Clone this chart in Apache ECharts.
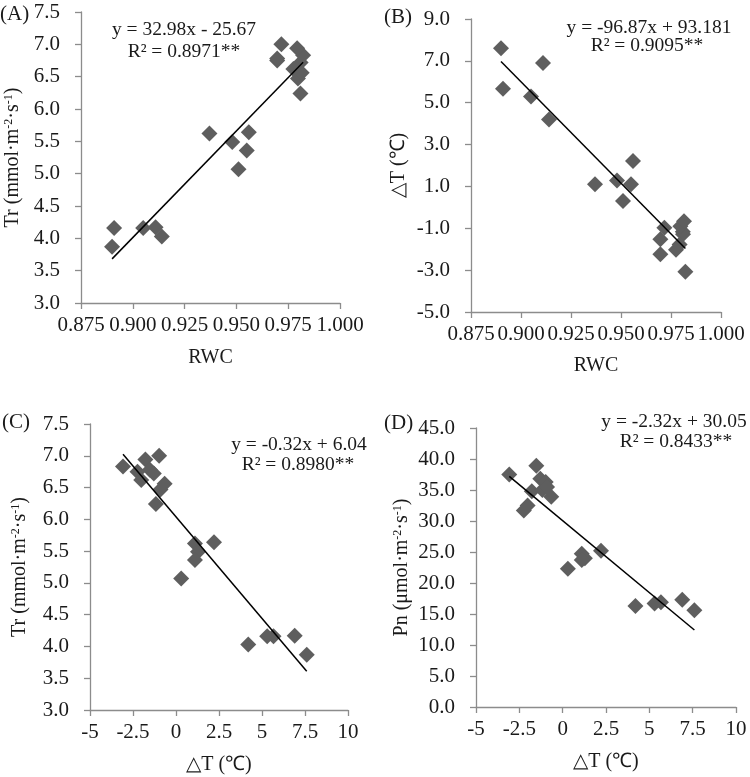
<!DOCTYPE html>
<html><head><meta charset="utf-8">
<script src="https://cdn.jsdelivr.net/npm/echarts@6/dist/echarts.min.js"></script>
<style>html,body{margin:0;padding:0;background:#fff}#c{width:750px;height:777px}</style>
</head><body><div id="c"></div>
<script>
// Samples (20)
const rwc    = [0.890, 0.891, 0.905, 0.911, 0.914, 0.937, 0.948, 0.951, 0.956, 0.955,
                0.9822, 0.9697, 0.9775, 0.9793, 0.9697, 0.981, 0.9809, 0.9717, 0.9797, 0.9815];
const deltaT = [7.60, 5.67, 5.30, 6.90, 4.20, 1.10, 1.28, 0.30, 2.21, 1.10,
                -3.08, -2.24, -2.02, -1.78, -1.52, -1.29, -1.17, -0.98, -0.90, -0.66];
const tr     = [3.87, 4.16, 4.16, 4.17, 4.03, 5.62, 5.49, 5.07, 5.64, 5.36,
                6.83, 6.75, 6.62, 6.94, 6.78, 6.72, 6.24, 7.00, 6.47, 6.56];
const pn     = [15.6, 16.9, 16.7, 17.3, 16.3, 24.7, 24.0, 22.3, 25.2, 23.7,
                37.5, 31.7, 32.5, 34.8, 38.9, 36.8, 35.0, 36.3, 35.5, 33.9];

// Regression coefficients [slope, intercept] and labels
const fitA = [32.98, -25.67];
const fitB = [-96.87, 93.181];
const fitC = [-0.32, 6.04];
const fitD = [-2.32, 30.05];
const eqA = ['y = 32.98x - 25.67', 'R² = 0.8971**'];
const eqB = ['y = -96.87x + 93.181', 'R² = 0.9095**'];
const eqC = ['y = -0.32x + 6.04', 'R² = 0.8980**'];
const eqD = ['y = -2.32x + 30.05', 'R² = 0.8433**'];
const panelLabels = ['(A)', '(B)', '(C)', '(D)'];

// Axis ranges [min, max, interval]
const rwcAxis = [0.875, 1.000, 0.025];
const dtAxis  = [-5, 10, 2.5];
const trAxis  = [3.0, 7.5, 0.5];
const dtYAxis = [-5.0, 9.0, 2.0];
const pnAxis  = [0.0, 45.0, 5.0];

const FONT = '"Liberation Serif", "Times New Roman", serif';
const FS = 21;
const TXT = '#1a1a1a';
const AXC = '#8c8c8c';
const MARK = '#5e5e5e';

const pts = (xs, ys) => xs.map((x, i) => [x, ys[i]]);
const fitLine = (xs, f) => {
  const lo = Math.min(...xs), hi = Math.max(...xs);
  return [[lo, f[0]*lo + f[1]], [hi, f[0]*hi + f[1]]];
};

const grids = [
  {left: 81, top: 12, width: 259, height: 291},
  {left: 471, top: 19, width: 250, height: 293},
  {left: 90, top: 424, width: 258, height: 286},
  {left: 476, top: 428, width: 260, height: 279}
];

const supRich = {
  a: {fontFamily: FONT, fontSize: 20, color: TXT},
  s: {fontFamily: FONT, fontSize: 12, color: TXT, verticalAlign: 'top', padding: [0, 0, 7, 0]}
};
const trName = '{a|Tr (mmol·m}{s|-2}{a|·s}{s|-1}{a|)}';
const pnName = '{a|Pn (μmol·m}{s|-2}{a|·s}{s|-1}{a|)}';

function xAx(i, r, name, dec, gap) {
  return {
    type: 'value', gridIndex: i, min: r[0], max: r[1], interval: r[2],
    name: name, nameLocation: 'middle', nameGap: gap,
    nameTextStyle: {fontFamily: FONT, fontSize: 20, color: TXT},
    axisLine: {show: true, onZero: false, lineStyle: {color: AXC, width: 1.3}},
    axisTick: {show: true, length: 6, lineStyle: {color: AXC, width: 1.3}},
    splitLine: {show: false},
    axisLabel: {fontFamily: FONT, fontSize: FS, color: TXT, margin: 12, hideOverlap: false,
      formatter: v => dec === null ? String(v) : v.toFixed(dec)}
  };
}
function yAx(i, r, name, gap, rich) {
  return {
    type: 'value', gridIndex: i, min: r[0], max: r[1], interval: r[2],
    name: name, nameLocation: 'middle', nameGap: gap, nameRotate: 90,
    nameTextStyle: rich ? {rich: supRich} : {fontFamily: FONT, fontSize: 20, color: TXT},
    axisLine: {show: true, onZero: false, lineStyle: {color: AXC, width: 1.3}},
    axisTick: {show: true, length: 6, lineStyle: {color: AXC, width: 1.3}},
    splitLine: {show: false},
    axisLabel: {fontFamily: FONT, fontSize: FS, color: TXT, margin: 21,
      formatter: v => v.toFixed(1)}
  };
}

function scat(i, data) {
  return {type: 'scatter', xAxisIndex: i, yAxisIndex: i, data: data,
    symbol: 'diamond', symbolSize: 16, itemStyle: {color: MARK, opacity: 1}, z: 2};
}
function line(i, data) {
  return {type: 'line', xAxisIndex: i, yAxisIndex: i, data: data, symbol: 'none',
    lineStyle: {color: '#000', width: 1.5}, z: 3, silent: true};
}

function txt(x, y, s, align, size) {
  return {type: 'text', x: x, y: y, style: {text: s, font: (size || 19.5) + 'px ' + FONT, fill: TXT,
    textAlign: align || 'center', textVerticalAlign: 'middle'}};
}

const chart = echarts.init(document.getElementById('c'));
chart.setOption({
  animation: false,
  backgroundColor: '#fff',
  grid: grids,
  xAxis: [
    xAx(0, rwcAxis, 'RWC', 3, 45),
    xAx(1, rwcAxis, 'RWC', 3, 44),
    xAx(2, dtAxis, '△T (℃)', null, 45),
    xAx(3, dtAxis, '△T (℃)', null, 45)
  ],
  yAxis: [
    yAx(0, trAxis, trName, 58, true),
    yAx(1, dtYAxis, '△T (℃)', 62, false),
    yAx(2, trAxis, trName, 60, true),
    yAx(3, pnAxis, pnName, 64, true)
  ],
  series: [
    scat(0, pts(rwc, tr)), line(0, fitLine(rwc, fitA)),
    scat(1, pts(rwc, deltaT)), line(1, fitLine(rwc, fitB)),
    scat(2, pts(deltaT, tr)), line(2, fitLine(deltaT, fitC)),
    scat(3, pts(deltaT, pn)), line(3, fitLine(deltaT, fitD))
  ],
  graphic: [
    txt(0, 14, panelLabels[0], 'left', 21),
    txt(384, 17, panelLabels[1], 'left', 21),
    txt(2, 422, panelLabels[2], 'left', 21),
    txt(384, 423, panelLabels[3], 'left', 21),
    txt(184, 30, eqA[0]), txt(184, 52, eqA[1]),
    txt(649, 28, eqB[0]), txt(647, 46, eqB[1]),
    txt(299, 445, eqC[0]), txt(298, 465, eqC[1]),
    txt(674, 422, eqD[0]), txt(676, 442, eqD[1])
  ]
});
</script>
</body></html>
